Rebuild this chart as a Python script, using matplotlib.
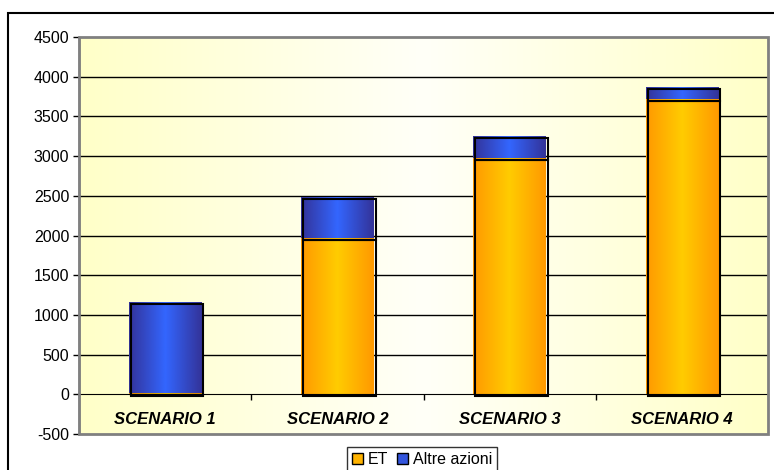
import numpy as np
import matplotlib
matplotlib.use("Agg")
import matplotlib.pyplot as plt
from matplotlib.patches import Rectangle, Patch
from matplotlib.colors import LinearSegmentedColormap
import matplotlib.transforms as mtransforms

plt.rcParams['font.family'] = ['Liberation Sans', 'DejaVu Sans']
plt.rcParams['axes.unicode_minus'] = False

scenari = ["SCENARIO 1", "SCENARIO 2", "SCENARIO 3", "SCENARIO 4"]
et = [15, 1970, 2978, 3725]
altre_azioni = [1150, 515, 275, 150]
yticks = [-500, 0, 500, 1000, 1500, 2000, 2500, 3000, 3500, 4000, 4500]

W, H = 774, 470
fig = plt.figure(figsize=(W / 100, H / 100), dpi=100)
fig.patch.set_facecolor("white")

# outer chart frame (runs off the right and bottom edges)
fig.patches.append(Rectangle((8 / W, -0.05), 1.0, 1 - 13 / H + 0.05,
                             transform=fig.transFigure, fill=False,
                             edgecolor="black", linewidth=1.5))

ax = fig.add_axes([79 / W, (H - 434) / H, (768 - 79) / W, (434 - 37) / H])
ax.set_xlim(-0.5, 3.5)
ax.set_ylim(-500, 4500)

# plot area background: yellow -> white -> yellow
bg = LinearSegmentedColormap.from_list("bg", ["#ffffc8", "#fffff8", "#ffffc8"])
ax.imshow(np.linspace(0, 1, 256)[None, :], cmap=bg, aspect="auto",
          extent=[0, 1, 0, 1], transform=ax.transAxes, zorder=0)

for y in yticks[2:-1]:
    ax.axhline(y, color="black", linewidth=1, zorder=1)

orange = LinearSegmentedColormap.from_list("or", ["#ff9900", "#ffcc00", "#ff9900"])
blue = LinearSegmentedColormap.from_list("bl", ["#333399", "#3366ff", "#333399"])
grad = np.linspace(0, 1, 128)[None, :]

x = np.arange(len(scenari))
width = 0.42
shift = mtransforms.offset_copy(ax.transData, fig=fig, x=2, y=-2, units="dots")

def gradient_bars(bottoms, heights, cmap):
    bars = ax.bar(x, heights, width, bottom=bottoms, color="none",
                  edgecolor="none", zorder=2)
    for b in bars:
        x0, y0 = b.get_x(), b.get_y()
        w, h = b.get_width(), b.get_height()
        im = ax.imshow(grad, cmap=cmap, aspect="auto",
                       extent=[x0, x0 + w, y0, y0 + h], zorder=2)
        im.set_clip_path(b)
        # slightly offset outline, like a drop shadow
        ax.add_patch(Rectangle((x0, y0), w, h, transform=shift, fill=False,
                               edgecolor="black", linewidth=1.5, zorder=3))

gradient_bars(np.zeros(len(et)), et, orange)
gradient_bars(np.array(et), altre_azioni, blue)

ax.set_xlim(-0.5, 3.5)
ax.set_ylim(-500, 4500)

# axes styling
for s in ["top", "right"]:
    ax.spines[s].set_visible(False)
ax.spines["bottom"].set_position(("data", 0))
ax.spines["bottom"].set_color("black")
ax.spines["bottom"].set_zorder(4)
ax.spines["left"].set_color("black")
ax.spines["left"].set_linewidth(1)

ax.add_patch(Rectangle((0, 0), 1, 1, transform=ax.transAxes, fill=False,
                       edgecolor="#808080", linewidth=2, zorder=5, clip_on=False))

ax.set_yticks(yticks)
ax.tick_params(axis="y", length=4, width=1, labelsize=11.5, pad=3)

ax.set_xticks(x)
ax.set_xticklabels(scenari, fontsize=12, fontweight="bold", fontstyle="italic")
ax.set_xticks([0.5, 1.5, 2.5], minor=True)
ax.tick_params(axis="x", which="major", length=0, pad=13)
ax.tick_params(axis="x", which="minor", length=4, width=1, direction="out")

handles = [Patch(facecolor="#ffb300", edgecolor="black", label="ET"),
           Patch(facecolor="#3355dd", edgecolor="black", label="Altre azioni")]
leg = fig.legend(handles=handles, loc="upper center", ncol=2,
                 bbox_to_anchor=(422 / W, 1 - 447 / H), fontsize=11.5,
                 frameon=True, fancybox=False, handlelength=0.7,
                 handleheight=0.7, handletextpad=0.3, columnspacing=0.5,
                 borderpad=0.3, borderaxespad=0)
leg.get_frame().set_edgecolor("black")
leg.get_frame().set_linewidth(1)

fig.savefig("out.png", dpi=100)
